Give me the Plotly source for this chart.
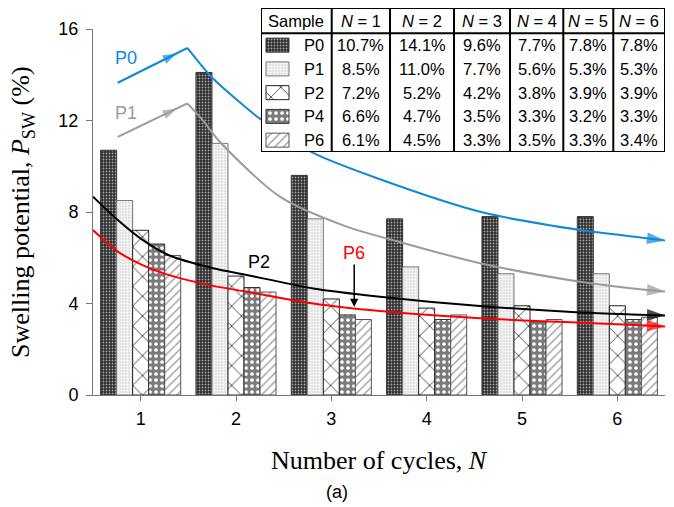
import plotly.graph_objects as go

# ---------------- data ----------------
cycles = [1, 2, 3, 4, 5, 6]
samples = ["P0", "P1", "P2", "P4", "P6"]
p0 = [10.7, 14.1, 9.6, 7.7, 7.8, 7.8]
p1 = [8.5, 11.0, 7.7, 5.6, 5.3, 5.3]
p2 = [7.2, 5.2, 4.2, 3.8, 3.9, 3.9]
p4 = [6.6, 4.7, 3.5, 3.3, 3.2, 3.3]
p6 = [6.1, 4.5, 3.3, 3.5, 3.3, 3.4]
values = [p0, p1, p2, p4, p6]
table_header = ["Sample", "<i>N</i> = 1", "<i>N</i> = 2", "<i>N</i> = 3",
                "<i>N</i> = 4", "<i>N</i> = 5", "<i>N</i> = 6"]
y_ticks = [0, 4, 8, 12, 16]

# trend curves
p0_rise_x = [0.76, 1.49]
p0_rise_y = [13.65, 15.17]
p0_fall_x = [1.49, 1.74, 2.01, 2.25, 2.81, 3.51, 4.56, 5.61, 6.24, 6.50]
p0_fall_y = [15.17, 13.91, 12.90, 12.08, 10.58, 9.43, 8.01, 7.21, 6.89, 6.75]
p1_rise_x = [0.76, 1.49]
p1_rise_y = [11.28, 12.75]
p1_fall_x = [1.49, 1.65, 1.83, 2.46, 3.16, 3.62, 4.56, 5.61, 6.24, 6.50]
p1_fall_y = [12.75, 12.02, 11.07, 8.67, 7.36, 6.80, 5.76, 4.95, 4.62, 4.52]
p2_curve_x = [0.50, 0.76, 1.02, 1.29, 1.76, 2.11, 2.81, 3.51, 4.56, 5.61, 6.24, 6.50]
p2_curve_y = [8.67, 7.65, 6.78, 6.12, 5.54, 5.25, 4.66, 4.30, 3.89, 3.61, 3.51, 3.47]
p6_curve_x = [0.50, 0.76, 1.02, 1.29, 1.76, 2.11, 2.81, 3.51, 4.56, 5.61, 6.24, 6.50]
p6_curve_y = [7.21, 6.27, 5.68, 5.25, 4.77, 4.52, 4.00, 3.67, 3.35, 3.16, 3.05, 2.99]

# label positions
label_p0 = (0.85, 14.73)
label_p1 = (0.85, 12.33)
label_p2 = (2.24, 5.81)
label_p6 = (3.24, 6.21)
p6_arrow_tip = (3.24, 3.85)

# ---------------- styles ----------------
SANS = "Liberation Sans, Arial, sans-serif"
SERIF = "Liberation Serif, Times New Roman, serif"
BLUE = "#0f8ad6"
GRAY = "#9b9b9b"
RED = "#ff0000"

bar_styles = {
    "P0": dict(bgcolor="#2c2c2c", fgcolor="#a6a6a6", shape=".", size=3, solidity=0.3, line="#333333"),
    "P1": dict(bgcolor="#e2e2e2", fgcolor="#ffffff", shape=".", size=3, solidity=0.35, line="#777777"),
    "P2": dict(bgcolor="#ffffff", fgcolor="#111111", shape="x", size=14, solidity=0.1, line="#222222"),
    "P4": dict(bgcolor="#7c7c7c", fgcolor="#ffffff", shape=".", size=6, solidity=0.3, line="#333333"),
    "P6": dict(bgcolor="#ffffff", fgcolor="#9a9a9a", shape="/", size=6, solidity=0.22, line="#555555"),
}


def marker_for(name):
    s = bar_styles[name]
    return dict(
        color=s["bgcolor"],
        line=dict(color=s["line"], width=1),
        pattern=dict(shape=s["shape"], bgcolor=s["bgcolor"], fgcolor=s["fgcolor"],
                     size=s["size"], solidity=s["solidity"], fillmode="replace"),
    )


fig = go.Figure()

# ---------------- bars ----------------
for name, vals in zip(samples, values):
    fig.add_trace(go.Bar(x=cycles, y=vals, name=name, marker=marker_for(name),
                         showlegend=False, xaxis="x", yaxis="y"))


# ---------------- trend curves ----------------
def add_fall(xs, ys, color, width=2):
    n = len(xs)
    fig.add_trace(go.Scatter(
        x=xs, y=ys, mode="lines+markers", showlegend=False,
        line=dict(color=color, width=width, shape="spline", smoothing=0.8),
        marker=dict(symbol=["circle"] * (n - 1) + ["arrow"],
                    size=[0] * (n - 1) + [19], color=color,
                    angleref="previous", line=dict(width=0)),
        xaxis="x", yaxis="y"))


def add_rise(xs, ys, color, width=2):
    frac = 0.85
    mx = xs[0] + frac * (xs[1] - xs[0])
    my = ys[0] + frac * (ys[1] - ys[0])
    fig.add_trace(go.Scatter(
        x=[xs[0], mx, xs[1]], y=[ys[0], my, ys[1]], mode="lines+markers",
        showlegend=False, line=dict(color=color, width=width),
        marker=dict(symbol=["circle", "arrow", "circle"], size=[0, 15, 0],
                    color=color, angleref="previous", line=dict(width=0)),
        xaxis="x", yaxis="y"))


add_rise(p0_rise_x, p0_rise_y, BLUE)
add_fall(p0_fall_x, p0_fall_y, BLUE)
add_rise(p1_rise_x, p1_rise_y, GRAY)
add_fall(p1_fall_x, p1_fall_y, GRAY)
add_fall(p2_curve_x, p2_curve_y, "#000000")
add_fall(p6_curve_x, p6_curve_y, RED)

# ---------------- table (subplot 2) ----------------
T_W, T_H = 404, 144
col_edges = [0, 70.7, 129, 193, 249, 302.3, 352.3, 404]
header_bottom = 118.7
row_h = header_bottom / 5
row_centers = [header_bottom - (i + 0.5) * row_h for i in range(5)]

shapes = []
shapes.append(dict(type="rect", xref="x2", yref="y2", x0=0, x1=T_W, y0=0, y1=T_H,
                   fillcolor="white", line=dict(width=0), layer="below"))
for xe in col_edges[1:-1]:
    shapes.append(dict(type="line", xref="x2", yref="y2", x0=xe, x1=xe, y0=0, y1=T_H,
                       line=dict(color="black", width=2), layer="above"))
shapes.append(dict(type="line", xref="x2", yref="y2", x0=0, x1=T_W, y0=header_bottom,
                   y1=header_bottom, line=dict(color="black", width=2), layer="above"))
shapes.append(dict(type="rect", xref="x2", yref="y2", x0=0, x1=T_W, y0=0, y1=T_H,
                   line=dict(color="black", width=2), layer="above"))

for name, yc in zip(samples, row_centers):
    fig.add_trace(go.Bar(
        x=[23], y=[yc], base=[5], orientation="h", width=14, offset=-7,
        marker=marker_for(name), showlegend=False, xaxis="x2", yaxis="y2"))

annotations = []
hdr_y = (T_H + header_bottom) / 2
for i, h in enumerate(table_header):
    annotations.append(dict(x=(col_edges[i] + col_edges[i + 1]) / 2, y=hdr_y,
                            xref="x2", yref="y2", text=h, showarrow=False,
                            xanchor="center", yanchor="middle",
                            font=dict(family=SANS, size=16.5, color="black")))
for name, vals, yc in zip(samples, values, row_centers):
    annotations.append(dict(x=65, y=yc, xref="x2", yref="y2", text=name, showarrow=False,
                            xanchor="right", yanchor="middle",
                            font=dict(family=SANS, size=16.5, color="black")))
    for j, v in enumerate(vals):
        annotations.append(dict(x=(col_edges[j + 1] + col_edges[j + 2]) / 2, y=yc,
                                xref="x2", yref="y2", text=f"{v:.1f}%", showarrow=False,
                                xanchor="center", yanchor="middle",
                                font=dict(family=SANS, size=16.5, color="black")))

# ---------------- curve labels ----------------
annotations += [
    dict(x=label_p0[0], y=label_p0[1], xref="x", yref="y", text="P0", showarrow=False,
         xanchor="center", yanchor="middle", font=dict(family=SANS, size=18, color=BLUE)),
    dict(x=label_p1[0], y=label_p1[1], xref="x", yref="y", text="P1", showarrow=False,
         xanchor="center", yanchor="middle", font=dict(family=SANS, size=18, color=GRAY)),
    dict(x=label_p2[0], y=label_p2[1], xref="x", yref="y", text="P2", showarrow=False,
         xanchor="center", yanchor="middle", font=dict(family=SANS, size=18, color="black")),
    dict(x=p6_arrow_tip[0], y=p6_arrow_tip[1], xref="x", yref="y",
         ax=label_p6[0], ay=label_p6[1], axref="x", ayref="y", text="P6",
         showarrow=True, arrowhead=2, arrowsize=1.1, arrowwidth=1.5, arrowcolor="black",
         standoff=0, font=dict(family=SANS, size=18, color=RED)),
]

# axis titles
annotations += [
    dict(x=-0.124, y=0.473, xref="paper", yref="paper", textangle=-90, showarrow=False,
         xanchor="center", yanchor="middle",
         text="Swelling potential, <i>P</i><sub>SW</sub> (%)",
         font=dict(family=SERIF, size=26, color="black")),
    dict(x=0.5, y=-0.168, xref="paper", yref="paper", showarrow=False,
         xanchor="center", yanchor="middle",
         text="Number of cycles, <i>N</i>", font=dict(family=SERIF, size=26, color="black")),
    dict(x=0.4266, y=-0.2506, xref="paper", yref="paper", showarrow=False,
         xanchor="center", yanchor="middle",
         text="(a)", font=dict(family=SANS, size=18, color="black")),
]

fig.update_layout(
    width=674, height=507,
    margin=dict(l=93, r=9, t=8, b=112),
    paper_bgcolor="white", plot_bgcolor="white",
    barmode="group", bargap=0.16, bargroupgap=0,
    showlegend=False,
    shapes=shapes, annotations=annotations,
    xaxis=dict(domain=[0, 1], range=[0.5, 6.5], tickvals=cycles,
               ticktext=[str(c) for c in cycles], automargin=False,
               showline=True, linecolor="#777777", linewidth=1,
               ticks="outside", ticklen=5, tickcolor="#777777",
               showgrid=False, zeroline=False, ticklabelstandoff=2,
               tickfont=dict(family=SANS, size=18, color="black"), fixedrange=True),
    yaxis=dict(domain=[0, 366 / 387], range=[0, 16], tickvals=y_ticks, automargin=False,
               showline=True, linecolor="#777777", linewidth=1,
               ticks="outside", ticklen=6, tickcolor="#777777",
               showgrid=False, zeroline=False, ticklabelstandoff=4,
               tickfont=dict(family=SANS, size=18, color="black"), fixedrange=True),
    xaxis2=dict(domain=[168 / 572, 1.0], range=[0, T_W], visible=False,
                anchor="y2", fixedrange=True, automargin=False),
    yaxis2=dict(domain=[0.6279, 1.0], range=[0, T_H], visible=False,
                anchor="x2", fixedrange=True, automargin=False),
)

fig.write_html("out.html")
